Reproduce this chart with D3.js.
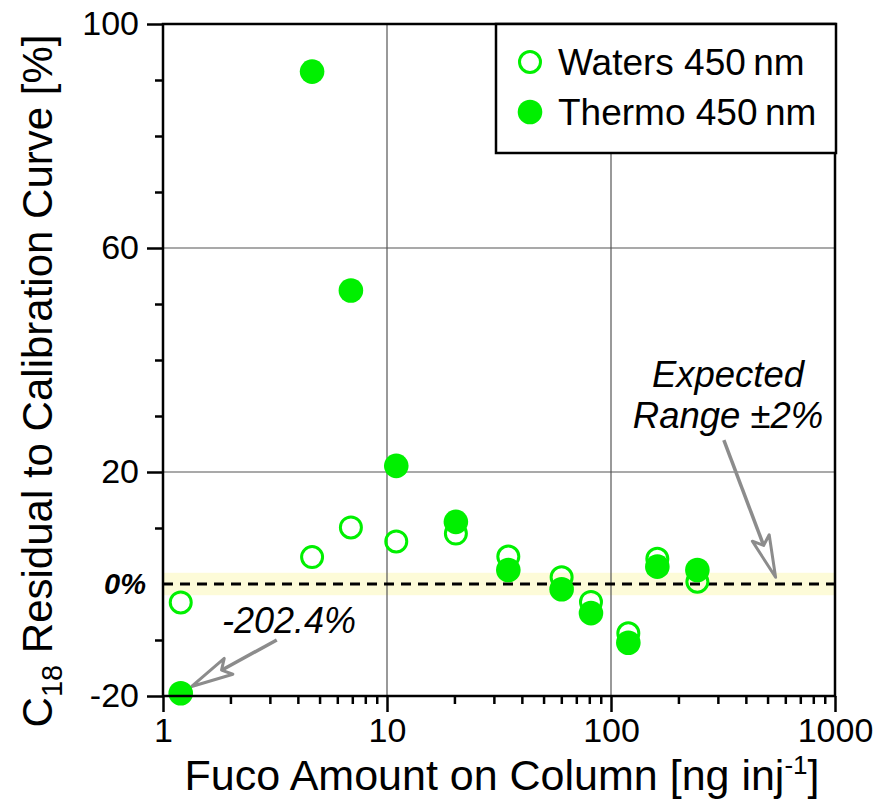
<!DOCTYPE html>
<html>
<head>
<meta charset="utf-8">
<script src="https://cdn.jsdelivr.net/npm/d3@7/dist/d3.min.js"></script>
<style>
  html, body { margin: 0; padding: 0; background: #fff; }
  svg { display: block; }
  text { font-family: "Liberation Sans", Arial, Helvetica, sans-serif; }
</style>
</head>
<body>
<svg id="chart" width="888" height="801"></svg>
<script>
// ---------- data ----------
const fucoAmount   = [1.2, 4.63, 6.9, 11.0, 20.3, 34.8, 60.2, 81.4, 119.5, 161, 243];
const watersResid  = [-3.3, 4.8, 10.1, 7.6, 9.0, 4.9, 1.2, -3.2, -8.8, 4.5, 0.4];
const thermoResid  = [-202.4, 91.5, 52.4, 21.1, 11.1, 2.5, -0.95, -5.2, -10.5, 3.1, 2.5];
const seriesNames  = ["Waters 450\u2009nm", "Thermo 450\u2009nm"];
const yMajorTicks  = [100, 60, 20, -20];
const yMinorTicks  = [90, 80, 70, 50, 40, 30, 10, -10];
const yGridTicks   = [60, 20];
const xMajorTicks  = [1, 10, 100, 1000];
const xGridTicks   = [10, 100];
const expectedRange = 2;          // ±2 %
const offScaleFloor = -19.5;      // where the off-scale value is drawn
// annotations (data coordinates)
const annotOffScale = { label: "-202.4%", text: [3.65, -8.75], from: [3.22, -10.0], to: [1.343, -18.3] };
const annotRange    = { lines: ["Expected", "Range \u00b12%"], text: [333, 35.25], lineStep: -7.35, from: [319, 25.7], to: [543, 1.2] };

// ---------- setup ----------
const svg = d3.select("#chart");
const L = 163, R = 835, T = 24, B = 696;
const x = d3.scaleLog().domain([1, 1000]).range([L, R]);
const y = d3.scaleLinear().domain([-20, 100]).range([B, T]);
const green = "#00f000";
const gray = "#8c8c8c";

// yellow expected band
svg.append("rect")
  .attr("x", L).attr("width", R - L)
  .attr("y", y(expectedRange)).attr("height", y(-expectedRange) - y(expectedRange))
  .attr("fill", "#fdfbd8");

// gridlines
svg.append("g").selectAll("line").data(xGridTicks).join("line")
  .attr("x1", d => x(d)).attr("x2", d => x(d)).attr("y1", T).attr("y2", B)
  .attr("stroke", "#555").attr("stroke-width", 1.2);
svg.append("g").selectAll("line").data(yGridTicks).join("line")
  .attr("x1", L).attr("x2", R).attr("y1", d => y(d)).attr("y2", d => y(d))
  .attr("stroke", "#555").attr("stroke-width", 1.2);

// zero dashed line
svg.append("line")
  .attr("x1", L).attr("x2", R).attr("y1", y(0)).attr("y2", y(0))
  .attr("stroke", "#000").attr("stroke-width", 3).attr("stroke-dasharray", "10,7");

// ---------- axes ----------
const fontTick = 34;
const plainFmt = d => String(d);
const yAxisMajor = d3.axisLeft(y).tickValues(yMajorTicks).tickSize(16).tickPadding(8).tickFormat(plainFmt);
const gy = svg.append("g").attr("transform", `translate(${L},0)`).call(yAxisMajor);
gy.select(".domain").remove();
gy.selectAll("line").attr("stroke", "#000").attr("stroke-width", 2.5);
gy.selectAll("text").attr("font-size", fontTick).attr("fill", "#000").attr("font-family", "Liberation Sans, Arial, sans-serif");

const gyMinor = svg.append("g").attr("transform", `translate(${L},0)`)
  .call(d3.axisLeft(y).tickValues(yMinorTicks).tickSize(8).tickFormat(""));
gyMinor.select(".domain").remove();
gyMinor.selectAll("line").attr("stroke", "#000").attr("stroke-width", 2.5);

// 0% label
svg.append("text")
  .attr("x", L - 17).attr("y", y(0)).attr("dy", "0.35em")
  .attr("text-anchor", "end").attr("font-size", 29)
  .attr("font-weight", "bold").attr("font-style", "italic")
  .text("0%");

const xMinorTicks = [];
[1, 10, 100].forEach(dec => { for (let k = 2; k <= 9; k++) xMinorTicks.push(dec * k); });

const gx = svg.append("g").attr("transform", `translate(0,${B})`)
  .call(d3.axisBottom(x).tickValues(xMajorTicks).tickSize(16).tickPadding(6).tickFormat(plainFmt));
gx.select(".domain").remove();
gx.selectAll("line").attr("stroke", "#000").attr("stroke-width", 2.5);
gx.selectAll("text").attr("font-size", fontTick).attr("fill", "#000").attr("font-family", "Liberation Sans, Arial, sans-serif");

const gxMinor = svg.append("g").attr("transform", `translate(0,${B})`)
  .call(d3.axisBottom(x).tickValues(xMinorTicks).tickSize(8).tickFormat(""));
gxMinor.select(".domain").remove();
gxMinor.selectAll("line").attr("stroke", "#000").attr("stroke-width", 2.5);

// ---------- annotations ----------
function arrow(from, to) {
  const x1 = x(from[0]), y1 = y(from[1]), x2 = x(to[0]), y2 = y(to[1]);
  const dx = x2 - x1, dy = y2 - y1, len = Math.hypot(dx, dy);
  const ux = dx / len, uy = dy / len, px = -uy, py = ux;
  const headLen = 42, headHalf = 9, notch = 34;
  const bx = x2 - ux * headLen, by = y2 - uy * headLen;
  const nx = x2 - ux * notch, ny = y2 - uy * notch;
  svg.append("line")
    .attr("x1", x1).attr("y1", y1).attr("x2", nx).attr("y2", ny)
    .attr("stroke", gray).attr("stroke-width", 3.5);
  svg.append("path")
    .attr("d", `M${x2},${y2} L${bx + px * headHalf},${by + py * headHalf} L${nx},${ny} L${bx - px * headHalf},${by - py * headHalf} Z`)
    .attr("fill", "#fff").attr("stroke", gray).attr("stroke-width", 3).attr("stroke-linejoin", "round");
}

svg.append("text")
  .attr("x", x(annotOffScale.text[0])).attr("y", y(annotOffScale.text[1]))
  .attr("text-anchor", "middle").attr("font-size", 36).attr("font-style", "italic")
  .text(annotOffScale.label);
arrow(annotOffScale.from, annotOffScale.to);

svg.append("g").selectAll("text").data(annotRange.lines).join("text")
  .attr("x", x(annotRange.text[0]))
  .attr("y", (d, i) => y(annotRange.text[1] + i * annotRange.lineStep))
  .attr("text-anchor", "middle").attr("font-size", 36.5).attr("font-style", "italic")
  .text(d => d);
arrow(annotRange.from, annotRange.to);

// ---------- points ----------
const pts = fucoAmount.map((f, i) => ({ f, w: watersResid[i], t: thermoResid[i] }));
svg.append("g").selectAll("circle").data(pts).join("circle")
  .attr("cx", d => x(d.f)).attr("cy", d => y(Math.max(d.w, offScaleFloor)))
  .attr("r", 10.5).attr("fill", "none").attr("stroke", green).attr("stroke-width", 3);
svg.append("g").selectAll("circle").data(pts).join("circle")
  .attr("cx", d => x(d.f)).attr("cy", d => y(Math.max(d.t, offScaleFloor)))
  .attr("r", 12.3).attr("fill", green);

// ---------- frame ----------
svg.append("rect")
  .attr("x", L).attr("y", T).attr("width", R - L).attr("height", B - T)
  .attr("fill", "none").attr("stroke", "#000").attr("stroke-width", 2.5);

// ---------- legend ----------
const lg = svg.append("g");
const lgX = 496, lgY = T, lgW = R + 1 - lgX, lgH = 129;
lg.append("rect").attr("x", lgX).attr("y", lgY).attr("width", lgW).attr("height", lgH)
  .attr("fill", "#fff").attr("stroke", "#000").attr("stroke-width", 2.5);
const legendRows = [{ name: seriesNames[0], filled: false }, { name: seriesNames[1], filled: true }];
const rows = lg.selectAll("g.row").data(legendRows).join("g").attr("class", "row")
  .attr("transform", (d, i) => `translate(${lgX + 34},${lgY + 38 + i * 50})`);
rows.append("circle").attr("r", d => d.filled ? 12.3 : 10.5)
  .attr("fill", d => d.filled ? green : "none")
  .attr("stroke", d => d.filled ? "none" : green).attr("stroke-width", 3);
rows.append("text").attr("x", 28).attr("dy", "0.36em").attr("font-size", 37).text(d => d.name);

// ---------- axis titles ----------
const xt = svg.append("text").attr("x", (L + R) / 2 + 3).attr("y", 790)
  .attr("text-anchor", "middle").attr("font-size", 43);
xt.append("tspan").text("Fuco Amount on Column [ng inj");
xt.append("tspan").attr("font-size", 26).attr("dy", -16).text("-1");
xt.append("tspan").attr("dy", 16).text("]");

const yt = svg.append("text").attr("transform", `translate(52,${(T + B) / 2 + 21}) rotate(-90)`)
  .attr("text-anchor", "middle").attr("font-size", 42);
yt.append("tspan").text("C");
yt.append("tspan").attr("font-size", 29).attr("dy", 10).text("18");
yt.append("tspan").attr("dy", -10).text(" Residual to Calibration Curve [%]");
</script>
</body>
</html>
